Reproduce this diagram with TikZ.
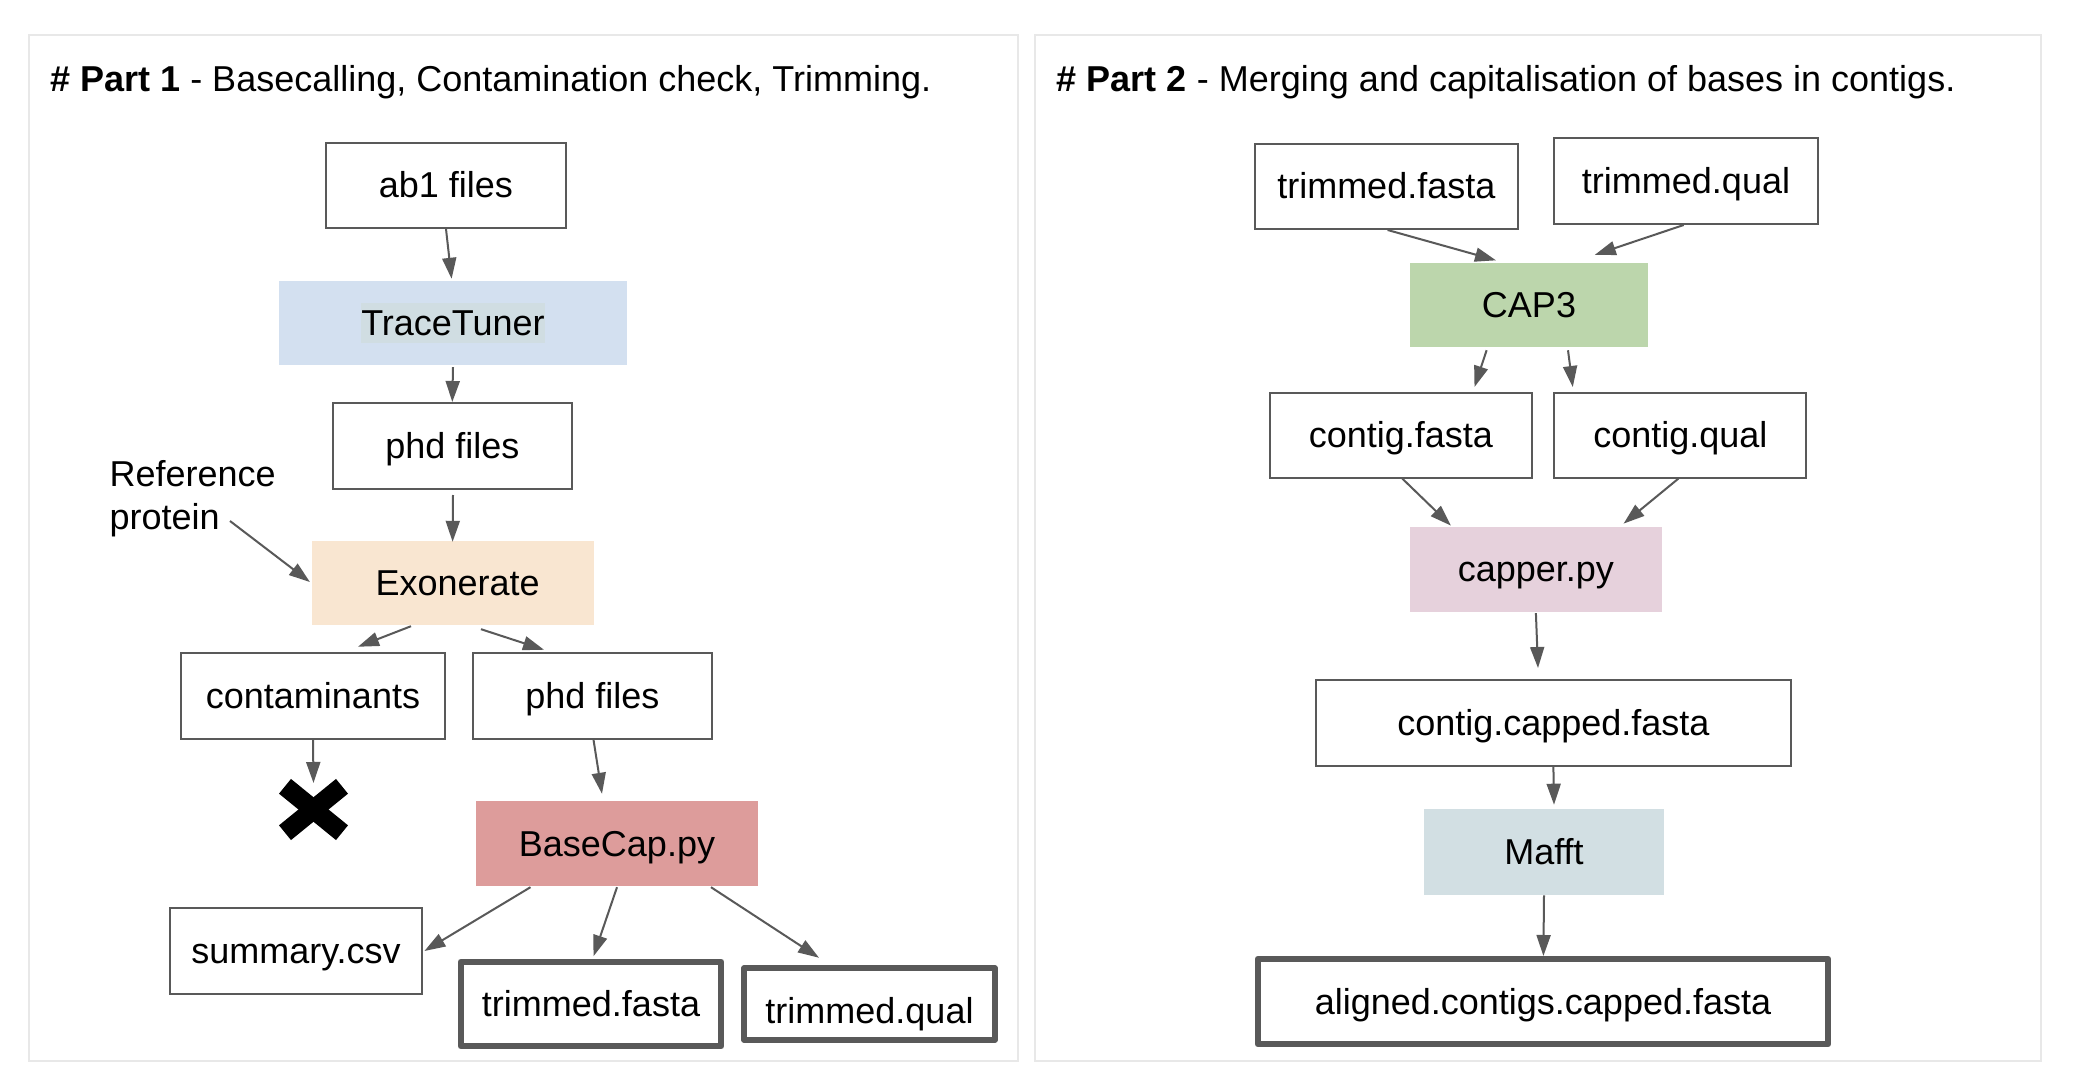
\documentclass[tikz,border=0pt]{standalone}
\usepackage{fontspec}
\setmainfont{Liberation Sans}
\usetikzlibrary{arrows.meta}
\definecolor{lg}{HTML}{595959}
\definecolor{frame}{HTML}{E8E8E8}
\definecolor{ttfill}{HTML}{D3E0F0}
\definecolor{tthl}{HTML}{D0DDE2}
\definecolor{exofill}{HTML}{F9E6D1}
\definecolor{basefill}{HTML}{DD9C9B}
\definecolor{capfill}{HTML}{BCD6AC}
\definecolor{capperfill}{HTML}{E6D1DC}
\definecolor{mafftfill}{HTML}{D2DFE3}
\begin{document}
\begin{tikzpicture}[x=1pt,y=-1pt,
  every node/.style={font=\fontsize{36}{41}\selectfont, inner sep=0pt},
  box/.style={draw=lg, line width=2pt, fill=white, text height=32.6pt, text depth=7.6pt},
  thickbox/.style={draw=lg, line width=6pt, line join=round, fill=white, text height=32.6pt, text depth=7.6pt},
  proc/.style={text height=32.6pt, text depth=7.6pt},
  arr/.style={draw=lg, line width=2pt, -{Triangle[length=21pt,width=14pt]}},
  panel/.style={draw=frame, line width=2pt}]
\fill[white] (0,0) rectangle (2078,1086);
\useasboundingbox (0,0) rectangle (2078,1086);

% panels
\draw[panel] (28.5,35) rectangle (1018,1061);
\draw[panel] (1035,35) rectangle (2041,1061);

% titles
\node[anchor=base west] (t1) at (50,92) {\textbf{\# Part 1} - Basecalling, Contamination check, Trimming.};
\node[anchor=base west] (t2) at (1056.7,92) {\textbf{\# Part 2} - Merging and capitalisation of bases in contigs.};

% ---------- Part 1 ----------
\node[box, minimum width=240pt, minimum height=85pt] (ab1) at (446,185.5) {ab1 files};
\node[proc, fill=ttfill, minimum width=348pt, minimum height=84pt] (tt) at (453,323)
  {{\setlength{\fboxsep}{0pt}\colorbox{tthl}{\rule[-7.6pt]{0pt}{40.2pt}TraceTuner}}};
\node[box, minimum width=239pt, minimum height=86pt] (phd1) at (452.3,446) {phd files};
\node[align=left, anchor=north west, font=\fontsize{36}{43}\selectfont] (ref) at (109.4,460) {Reference\\protein};
\coordinate (refarrow) at (230,521);
\node[proc, fill=exofill, minimum width=282pt, minimum height=84pt] (exo) at (452.6,583) {\hspace*{10pt}Exonerate};
\node[box, minimum width=263.6pt, minimum height=85.5pt] (cont) at (313,696) {contaminants};
\node[box, minimum width=239pt, minimum height=85.5pt] (phd2) at (592.5,696) {phd files};
\coordinate (xm) at (313.5,809.5);
\draw[black, line width=19pt, line cap=butt] (xm) ++(-28.5,-23.2) -- ++(57,46.4);
\draw[black, line width=19pt, line cap=butt] (xm) ++(28.5,-23.2) -- ++(-57,46.4);
\node[proc, fill=basefill, minimum width=282pt, minimum height=85pt] (base) at (617,843.5) {BaseCap.py};
\node[box, minimum width=252pt, minimum height=86pt] (summ) at (296,951) {summary.csv};
\node[thickbox, minimum width=260.4pt, minimum height=84.5pt] (tf1) at (591,1004) {trimmed.fasta};
\node[thickbox, minimum width=251pt, minimum height=71.5pt, text height=46.6pt] (tq1) at (869.5,1004) {trimmed.qual};

\draw[arr] (ab1.south) -- ([xshift=-1.4pt,yshift=2pt]tt.north);
\draw[arr] ([yshift=-2pt]tt.south) -- (phd1.north);
\draw[arr] ([xshift=0.7pt,yshift=-5pt]phd1.south) -- ([yshift=-1pt]exo.north);
\draw[arr] (refarrow) -- ([xshift=-1.5pt,yshift=1pt]exo.west);
\draw[arr] ([xshift=-41.6pt,yshift=-1pt]exo.south) -- ([xshift=45pt,yshift=5.5pt]cont.north);
\draw[arr] ([xshift=28.4pt,yshift=-4pt]exo.south) -- ([xshift=-48.5pt,yshift=2.5pt]phd2.north);
\draw[arr] (cont.south) -- ([yshift=26.5pt]xm);
\draw[arr] ([xshift=1pt]phd2.south) -- ([xshift=-15pt,yshift=7pt]base.north);
\draw[arr] ([xshift=-86.5pt,yshift=-1pt]base.south) -- ([xshift=1.4pt]summ.east);
\draw[arr] ([yshift=-1pt]base.south) -- ([xshift=2.5pt,yshift=2.5pt]tf1.north);
\draw[arr] ([xshift=94pt,yshift=-1pt]base.south) -- ([xshift=-50.5pt,yshift=7.5pt]tq1.north);

% ---------- Part 2 ----------
\node[box, minimum width=262.6pt, minimum height=85pt] (tf2) at (1386.3,186.5) {trimmed.fasta};
\node[box, minimum width=264pt, minimum height=86pt] (tq2) at (1686,181) {trimmed.qual};
\node[proc, fill=capfill, minimum width=238pt, minimum height=84.5pt] (cap3) at (1529,304.8) {CAP3};
\node[box, minimum width=262.4pt, minimum height=84.6pt] (cf) at (1400.8,435.3) {contig.fasta};
\node[box, minimum width=252pt, minimum height=84.6pt] (cq) at (1680.4,435.3) {contig.qual};
\node[proc, fill=capperfill, minimum width=251.7pt, minimum height=85.2pt] (capper) at (1535.9,569.4) {capper.py};
\node[box, minimum width=475pt, minimum height=86.4pt] (ccf) at (1553.4,722.8) {contig.capped.fasta};
\node[proc, fill=mafftfill, minimum width=240.7pt, minimum height=86.2pt] (mafft) at (1544,852) {Mafft};
\node[thickbox, minimum width=570.6pt, minimum height=85pt] (aligned) at (1543,1001.5) {aligned.contigs.capped.fasta};

\draw[arr] ([xshift=1.3pt]tf2.south) -- ([xshift=-33pt,yshift=2pt]cap3.north);
\draw[arr] ([xshift=-2.3pt]tq2.south) -- ([xshift=65.8pt,yshift=7.5pt]cap3.north);
\draw[arr] ([xshift=-42.4pt,yshift=-3pt]cap3.south) -- ([xshift=73.7pt,yshift=5pt]cf.north);
\draw[arr] ([xshift=39pt,yshift=-3pt]cap3.south) -- ([xshift=-107.6pt,yshift=5pt]cq.north);
\draw[arr] ([xshift=1.5pt]cf.south) -- ([xshift=-85pt,yshift=1pt]capper.north);
\draw[arr] ([xshift=-2pt]cq.south) -- ([xshift=87.7pt,yshift=3pt]capper.north);
\draw[arr] ([yshift=-1pt]capper.south) -- ([xshift=-15.4pt,yshift=10.6pt]ccf.north);
\draw[arr] (ccf.south) -- ([xshift=10pt,yshift=4pt]mafft.north);
\draw[arr] (mafft.south) -- ([xshift=0.4pt]aligned.north);
\end{tikzpicture}
\end{document}
